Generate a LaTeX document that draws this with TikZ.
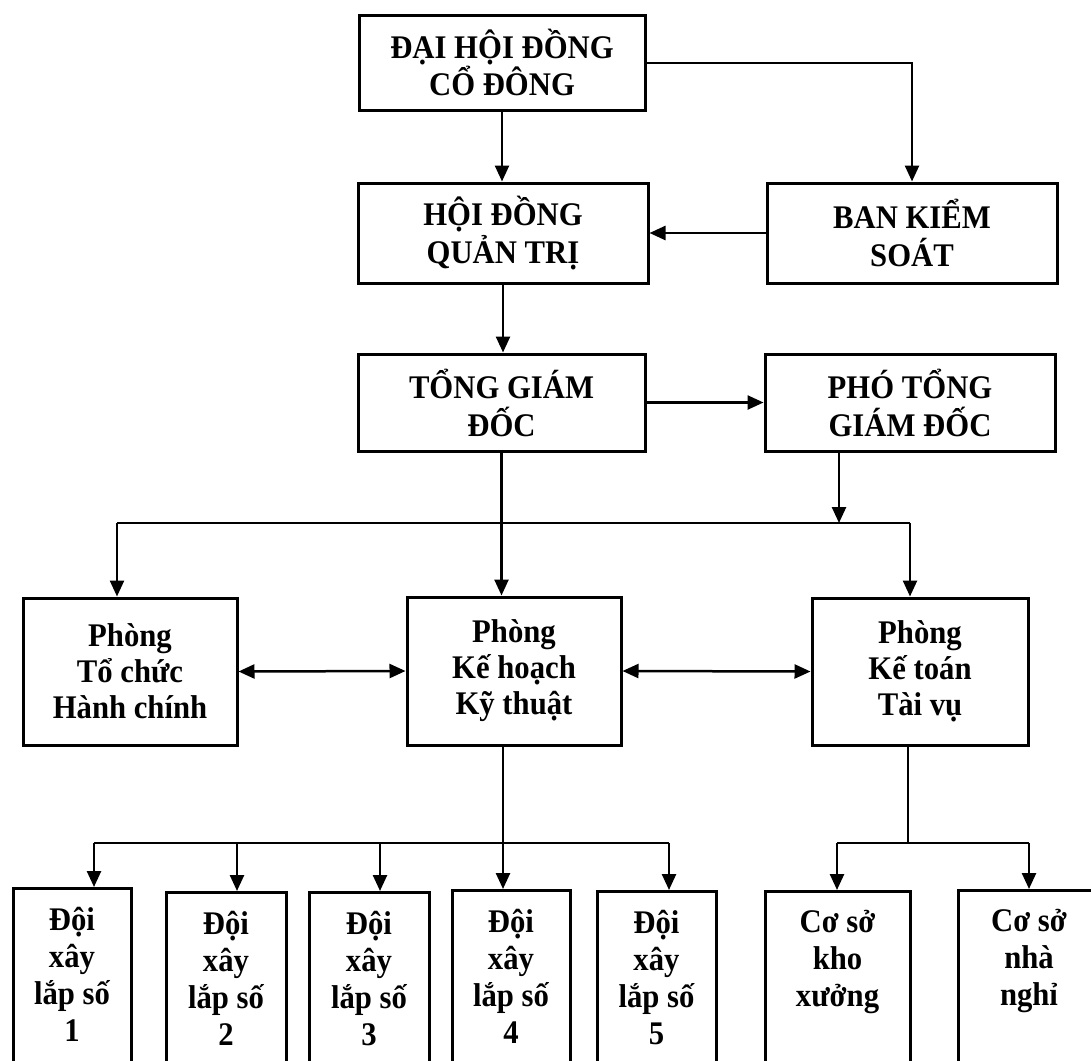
\documentclass[tikz,border=0pt]{standalone}
\usepackage{fontspec}
\setmainfont{Liberation Serif}[FakeStretch=0.93]
\usetikzlibrary{arrows.meta}
\newcommand\botcontent[2]{\parbox[t][215pt][t]{#1}{\centering\vspace*{19pt}#2}}
\begin{document}
\begin{tikzpicture}[x=1pt,y=-1pt,
  box/.style={draw, line width=3pt, align=center, inner sep=0pt,
    font=\bfseries\fontsize{33}{38}\selectfont},
  bbox/.style={draw, line width=3pt, inner sep=0pt, anchor=north,
    font=\bfseries\fontsize{33}{37}\selectfont},
  tip/.tip={Triangle[length=16pt,width=14pt]},
  conn/.style={line width=2.5pt, -tip},
  conn2/.style={line width=2.5pt, tip-tip},
  wire/.style={line width=2.5pt}]
\clip (0,0) rectangle (1091,1060);
\fill[white] (0,0) rectangle (1091,1060);

% top levels
\node[box, minimum width=286pt, minimum height=95pt,
      font=\bfseries\fontsize{33}{31}\selectfont] (dhd) at (502,62.5)
      {ĐẠI HỘI ĐỒNG\\CỔ ĐÔNG};
\node[box, minimum width=290pt, minimum height=100pt] (hdqt) at (503,233)
      {HỘI ĐỒNG\\QUẢN TRỊ};
\node[box, minimum width=290pt, minimum height=100pt] (bks) at (912,233)
      {BAN KIỂM\\SOÁT};
\node[box, minimum width=287pt, minimum height=97pt] (tgd) at (501.5,402.5)
      {TỔNG GIÁM\\ĐỐC};
\node[box, minimum width=290pt, minimum height=97pt] (ptgd) at (910,402.5)
      {PHÓ TỔNG\\GIÁM ĐỐC};

% departments
\node[box, minimum width=214pt, minimum height=147pt,
      font=\bfseries\fontsize{33}{36}\selectfont] (tchc) at (130,671.5)
      {Phòng\\Tổ chức\\Hành chính};
\node[box, minimum width=214pt, minimum height=148pt,
      font=\bfseries\fontsize{33}{36}\selectfont] (khkt) at (514,671)
      {Phòng\\Kế hoạch\\Kỹ thuật};
\node[box, minimum width=216pt, minimum height=147pt,
      font=\bfseries\fontsize{33}{36}\selectfont] (kttv) at (920,671.5)
      {Phòng\\Kế toán\\Tài vụ};

% bottom units
\node[bbox] (d1) at (72,887) {\botcontent{118pt}{Đội\\xây\\lắp số\\1}};
\node[bbox] (d2) at (226,891) {\botcontent{120pt}{Đội\\xây\\lắp số\\2}};
\node[bbox] (d3) at (369,891) {\botcontent{120pt}{Đội\\xây\\lắp số\\3}};
\node[bbox] (d4) at (511,889) {\botcontent{118pt}{Đội\\xây\\lắp số\\4}};
\node[bbox] (d5) at (656.5,890) {\botcontent{119pt}{Đội\\xây\\lắp số\\5}};
\node[bbox] (kho) at (837.5,890) {\botcontent{145pt}{Cơ sở\\kho\\xưởng}};
\node[bbox] (nghi) at (1029,889) {\botcontent{142pt}{Cơ sở\\nhà\\nghỉ}};

% junction coordinates
\coordinate (pj) at (839,523);
\coordinate (busL) at (117,523);
\coordinate (busR) at (910,523);
\coordinate (kb1) at (94,843);
\coordinate (kb2) at (237,843);
\coordinate (kb3) at (380,843);
\coordinate (kb4) at (503,843);
\coordinate (kb5) at (669,843);
\coordinate (tb) at (908,843);
\coordinate (tb1) at (837,843);
\coordinate (tb2) at (1029,843);

% connectors, upper part
\draw[conn] (dhd.south) -- (dhd.south |- hdqt.north);
\draw[conn] (dhd.east |- 0,63) -| (bks.north);
\draw[conn] (bks.west) -- (hdqt.east);
\draw[conn] (hdqt.south) -- (hdqt.south |- tgd.north);
\draw[conn] (tgd.east) -- (ptgd.west);
\draw[conn] (pj |- ptgd.south) -- (pj);
\draw[wire] (busL) -- (busR);
\draw[conn] (busL) -- (busL |- tchc.north);
\draw[conn] (busR) -- (busR |- kttv.north);
\draw[conn] (tgd.south) -- (tgd.south |- khkt.north);
\draw[conn2] (tchc.east) -- (khkt.west);
\draw[conn2] (khkt.east) -- (kttv.west);

% connectors, lower part
\draw[wire] (kb4 |- khkt.south) -- (kb4);
\draw[wire] (kb1) -- (kb5);
\draw[conn] (kb1) -- (kb1 |- d1.north);
\draw[conn] (kb2) -- (kb2 |- d2.north);
\draw[conn] (kb3) -- (kb3 |- d3.north);
\draw[conn] (kb4) -- (kb4 |- d4.north);
\draw[conn] (kb5) -- (kb5 |- d5.north);
\draw[wire] (tb |- kttv.south) -- (tb);
\draw[wire] (tb1) -- (tb2);
\draw[conn] (tb1) -- (tb1 |- kho.north);
\draw[conn] (tb2) -- (tb2 |- nghi.north);
\end{tikzpicture}
\end{document}
